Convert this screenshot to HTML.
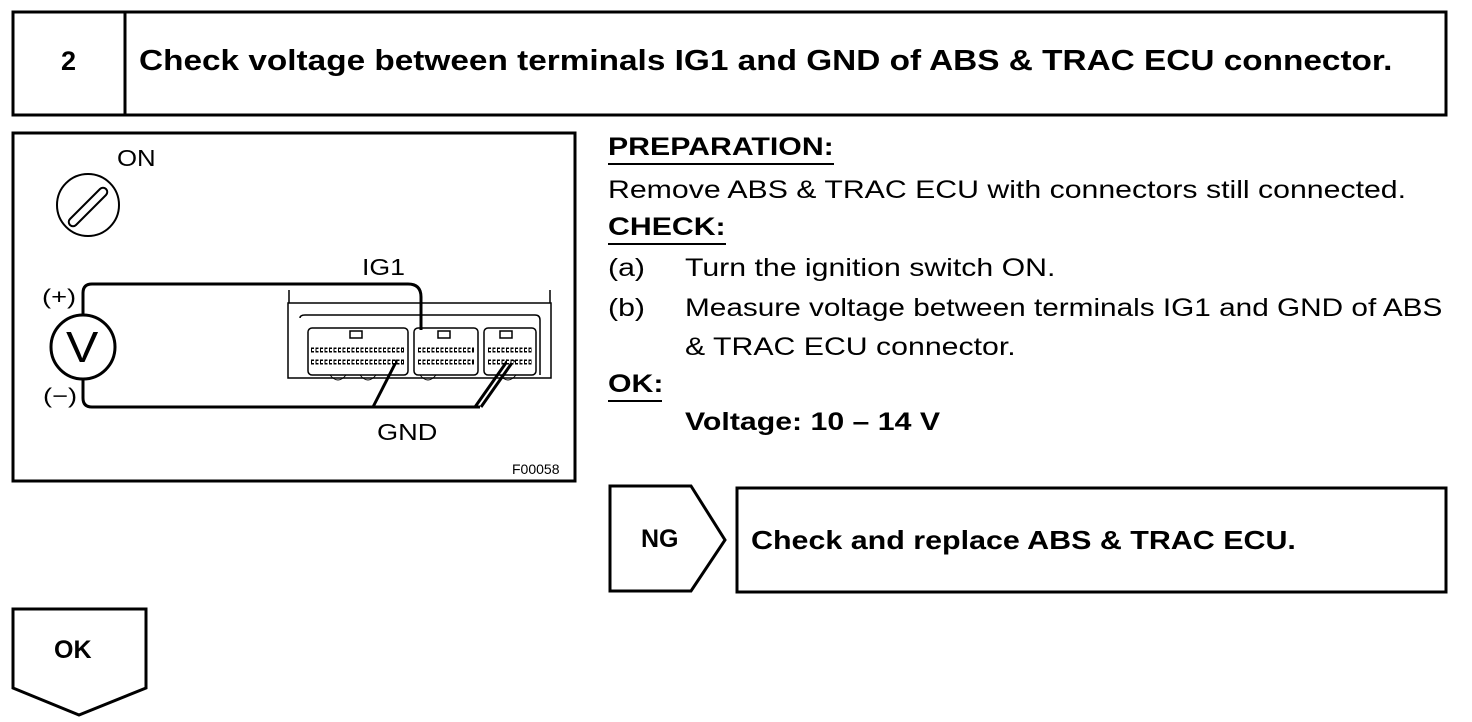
<!DOCTYPE html>
<html><head><style>
body{margin:0;background:#fff;width:1472px;height:722px;overflow:hidden;position:relative;font-family:"Liberation Sans",Arial,sans-serif;color:#000}
.t{position:absolute;white-space:nowrap;font-size:25px;line-height:1;transform-origin:0 0}
.s{transform:scaleX(1.21)}
.b{font-weight:bold}
</style></head><body>
<svg width="1472" height="722" style="position:absolute;left:0;top:0" fill="none" stroke="#000">
<rect x="13" y="12" width="1433" height="103" stroke-width="3"/>
<line x1="125" y1="12" x2="125" y2="115" stroke-width="3"/>
<rect x="13" y="133" width="562" height="348" stroke-width="3"/>
<path d="M610 486 H691 L725 540 L691 591 H610 Z" stroke-width="3"/>
<rect x="737" y="488" width="709" height="104" stroke-width="3"/>
<path d="M13 609 H146 V688 L79 715 L13 688 Z" stroke-width="3"/>
<circle cx="88" cy="205" r="31" stroke-width="2"/>
<path d="M70 219 L100 189 A4 4 0 0 1 106 195 L76 225 A4 4 0 0 1 70 219 Z" stroke-width="2"/>
<circle cx="83" cy="347" r="32" stroke-width="3"/>
<path d="M83 315 V293 Q83 284 92 284 H408 Q421 284 421 297 V330" stroke-width="3"/>
<path d="M83 379 V398 Q83 407 92 407 H480" stroke-width="3"/>
<path d="M373 407 L397 360 M475 407 L508 360 M481 407 L514 360" stroke-width="3"/>
<path d="M288 303 H551 V378 H288 Z M289 290 V303 M550 290 V303" stroke-width="1.5"/>
<path d="M300 318 Q300 315 305 315 H535 Q540 315 540 320 V375" stroke-width="1.5"/>
<rect x="308" y="328" width="100" height="47" rx="4" stroke-width="1.5"/>
<rect x="414" y="328" width="64" height="47" rx="4" stroke-width="1.5"/>
<rect x="484" y="328" width="52" height="47" rx="4" stroke-width="1.5"/>
<path d="M311 350 H404 M311 362 H404 M418 350 H474 M418 362 H474 M488 350 H532 M488 362 H532" stroke-width="5" stroke-dasharray="3 1.5"/>
<path d="M312 350 H403 M312 362 H403 M419 350 H473 M489 350 H531 M419 362 H473 M489 362 H531" stroke="#fff" stroke-width="2" stroke-dasharray="2 2.5"/>
<rect x="350" y="331" width="12" height="7" stroke-width="1.5"/>
<rect x="438" y="331" width="12" height="7" stroke-width="1.5"/>
<rect x="500" y="331" width="12" height="7" stroke-width="1.5"/>
<path d="M330 375 q8 10 16 0 M360 375 q8 10 16 0 M420 375 q8 10 16 0 M500 375 q8 10 16 0" stroke-width="1"/>
</svg>
<div class="t b" style="left:61px;top:48px;font-size:27px">2</div>
<div class="t b" style="left:139px;top:47px;font-size:29px;transform:scaleX(1.15)">Check voltage between terminals IG1 and GND of ABS &amp; TRAC ECU connector.</div>
<div class="t" style="left:117px;top:147px;font-size:23px;transform:scaleX(1.12)">ON</div>
<div class="t" style="left:362px;top:256px;font-size:23px;transform:scaleX(1.16)">IG1</div>
<div class="t" style="left:42px;top:287px;font-size:21px;transform:scaleX(1.3)">(+)</div>
<div class="t" style="left:43px;top:386px;font-size:21px;transform:scaleX(1.3)">(−)</div>
<div class="t" style="left:66px;top:326px;font-size:44px;transform:scaleX(1.1)">V</div>
<div class="t" style="left:377px;top:421px;font-size:23px;transform:scaleX(1.18)">GND</div>
<div class="t" style="left:512px;top:462px;font-size:14px">F00058</div>
<div class="t b s" style="left:608px;top:135px">PREPARATION:</div>
<div style="position:absolute;left:608px;top:163px;width:226px;height:2px;background:#000"></div>
<div class="t s" style="left:608px;top:178px">Remove ABS &amp; TRAC ECU with connectors still connected.</div>
<div class="t b s" style="left:608px;top:215px">CHECK:</div>
<div style="position:absolute;left:608px;top:243px;width:118px;height:2px;background:#000"></div>
<div class="t s" style="left:608px;top:256px">(a)</div>
<div class="t s" style="left:685px;top:256px">Turn the ignition switch ON.</div>
<div class="t s" style="left:608px;top:296px">(b)</div>
<div class="t s" style="left:685px;top:296px;transform:scaleX(1.19)">Measure voltage between terminals IG1 and GND of ABS</div>
<div class="t s" style="left:685px;top:335px">&amp; TRAC ECU connector.</div>
<div class="t b s" style="left:608px;top:372px">OK:</div>
<div style="position:absolute;left:608px;top:400px;width:54px;height:2px;background:#000"></div>
<div class="t b s" style="left:685px;top:410px">Voltage: 10 – 14 V</div>
<div class="t b" style="left:641px;top:527px">NG</div>
<div class="t b" style="left:751px;top:527px;font-size:26px;transform:scaleX(1.17)">Check and replace ABS &amp; TRAC ECU.</div>
<div class="t b" style="left:54px;top:638px">OK</div>
</body></html>
